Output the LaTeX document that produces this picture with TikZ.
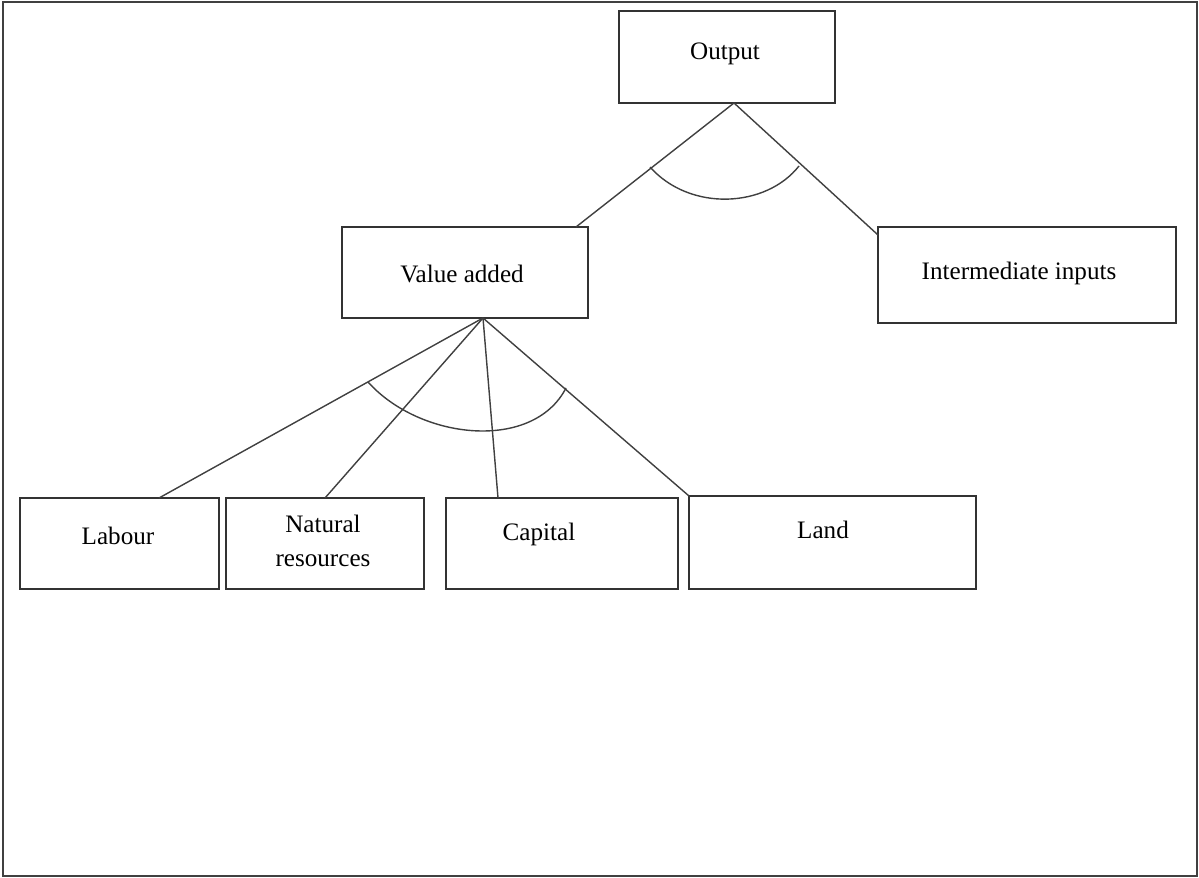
\documentclass[tikz,border=0pt]{standalone}
\usepackage{fontspec}
\setmainfont{Liberation Serif}
\usetikzlibrary{calc}
\begin{document}
\begin{tikzpicture}[x=0.02cm,y=-0.02cm,
	box/.style={draw=black!80,line width=0.8pt,inner sep=0pt,outer sep=0pt},
	lbl/.style={font=\fontsize{14.3}{19.3}\selectfont,align=center,inner sep=0pt,text height=0.7em,text depth=0.25em},
	link/.style={draw=black!75,line width=0.8pt}]
		\useasboundingbox (0,0) rectangle (1199,878);
		\draw[line width=1.2pt,black!75] (3,2) rectangle (1197,876);
		
		\node[box,minimum width=4.32cm,minimum height=1.84cm] (out) at (727,57) {};
		\node[box,minimum width=4.92cm,minimum height=1.82cm] (va) at (465,272.5) {};
		\node[box,minimum width=5.96cm,minimum height=1.92cm] (ii) at (1027,275) {};
		\node[box,minimum width=3.98cm,minimum height=1.82cm] (lab) at (119.5,543.5) {};
		\node[box,minimum width=3.96cm,minimum height=1.82cm] (nat) at (325,543.5) {};
		\node[box,minimum width=4.64cm,minimum height=1.82cm] (cap) at (562,543.5) {};
		\node[box,minimum width=5.74cm,minimum height=1.86cm] (land) at (832.5,542.5) {};
		
		\node[lbl] (out-txt) at (725,56) {Output};
		\node[lbl] (va-txt) at (462,279) {Value added};
		\node[lbl] (ii-txt) at (1019,276) {Intermediate inputs};
		\node[lbl] (lab-txt) at (118,541) {Labour};
		\node[lbl,text height=,text depth=] (nat-txt) at (323,541) {Natural\\resources};
		\node[lbl] (cap-txt) at (539,537) {Capital};
		\node[lbl] (land-txt) at (823,535) {Land};
		
		\coordinate (out-foot) at ($(out.south)+(7,0)$);
		\coordinate (va-foot) at ($(va.south)+(18,0)$);
		
		\draw[link] (out-foot) -- ($(va.north east)+(-12,0)$);
		\draw[link] (out-foot) -- ($(ii.north west)+(0,8)$);
		
		\draw[link] (va-foot) -- ($(lab.north)+(39.5,0)$);
		\draw[link] (va-foot) -- (nat.north);
		\draw[link] (va-foot) -- ($(cap.north)+(-64,0)$);
		\draw[link] (va-foot) -- (land.north west);
		
		% arcs over the branches
		\draw[link] (650,167) .. controls (690,212) and (766,208) .. (799,166);
		\draw[link] (368,382) .. controls (420,440) and (533,452) .. (566,388);
\end{tikzpicture}
\end{document}
